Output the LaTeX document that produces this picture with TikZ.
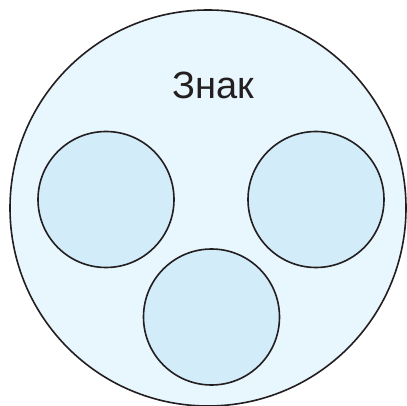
\documentclass[tikz,border=0pt]{standalone}
\usepackage{fontspec}
\setmainfont{Liberation Sans}
\usepackage{tikz}
\definecolor{signouter}{HTML}{E8F6FD}
\definecolor{signinner}{HTML}{D3ECF9}
\definecolor{signline}{HTML}{231F20}
\tikzset{
  sign/whole/.style={draw=signline, line width=1.6pt, circle, fill=signouter, minimum size=396pt, inner sep=0pt},
  sign/part/.style={draw=signline, line width=1.6pt, circle, fill=signinner, minimum size=136pt, inner sep=0pt},
  sign/title/.style={font=\fontsize{38}{40}\selectfont, text=signline, inner sep=0pt, anchor=base}
}
\begin{document}
\begin{tikzpicture}[x=1pt, y=-1pt]
  \useasboundingbox (0,0) rectangle (407,406);
  \clip (0,0) rectangle (407,406);
  \node[sign/whole] (sign) at (208,208) {};
  \node[sign/title] (name) at (213,99) {Знак};
  \node[sign/part] (left) at (106,199.5) {};
  \node[sign/part] (right) at (316,199.5) {};
  \node[sign/part] (bottom) at (211.5,317) {};
\end{tikzpicture}
\end{document}
